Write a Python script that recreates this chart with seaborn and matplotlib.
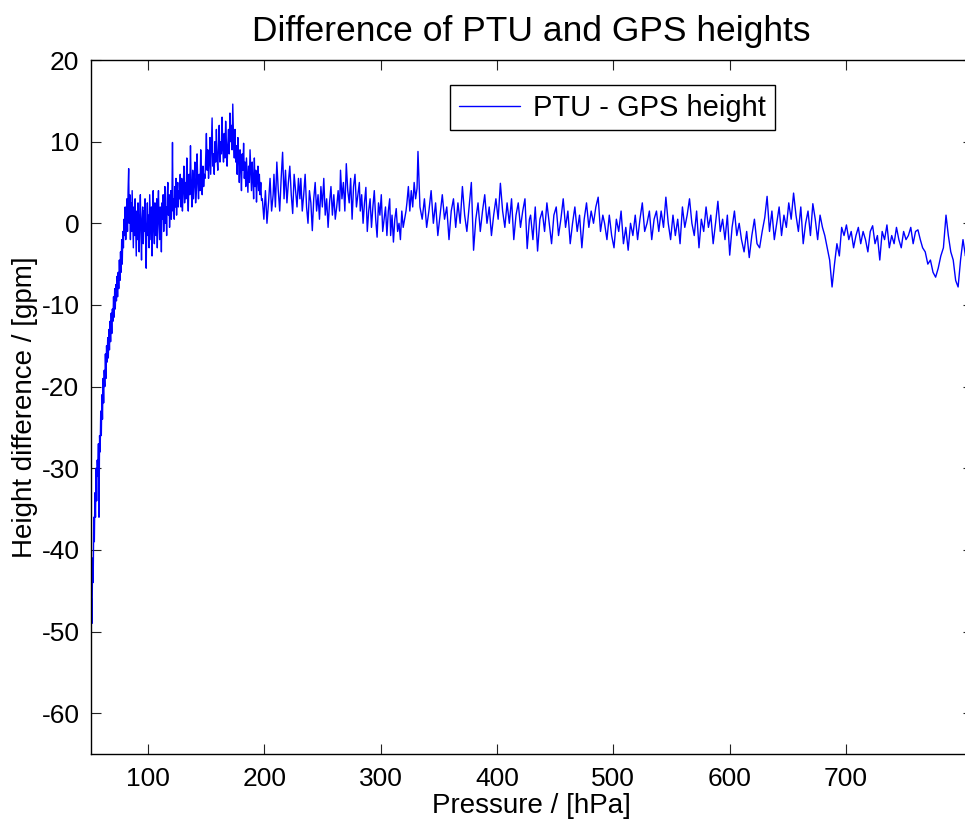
import numpy as np
import pandas as pd
import matplotlib
matplotlib.use("Agg")
import matplotlib.pyplot as plt
import seaborn as sns

# ---- data (pressure ranges in hPa, height differences in gpm) ----
seg_a = [-51, -46, -49, -41, -44, -36, -39, -33, -36, -30, -34, -29, -31, -27, -36, -26,
         -28, -23, -26, -21, -24, -19, -22, -18, -20, -16, -19, -15, -17, -14, -16.5, -13,
         -15.5, -12, -14.5, -11, -13.5, -10.5, -12, -9, -11.5, -8, -10.5, -7.5, -9.5, -6.5,
         -9, -6, -8, -4.5, -7, -3.5, -6, -2, -5, -1, -3, 0.5, -1.5, 2, -2, 1]
seg_b = [3, -1, 4, 6.7, 0, 3.5, -2, 2.5, -1, 4, 0.5, -3, 2, -1.5, 3, -0.5, -4, 1.5, -2, 2.5,
         0, -3.5, 1, 3.5, -1, -4.5, 0.5, 2, -2.5, 1.5, -1, 3, -2, -5.5, 0, 2.5, -1.5, 1, -3, 3.5,
         0.5, -2, 2, -4, 1, 4, -0.5, -2.5, 2.5, 0, -1.5, 3, -3, 1.5, 4, 0, -2, 2, 1, -3.5,
         2.5, 0.5, 3.5, -1, 1.5, 4.5, 0, 2, -1.5, 3, 5, 1, 3.5, -0.5, 2, 4, 0.5, 2.5, 9.9, 1.5,
         3, 0.5, 4.5, 2, 5.5, 1, 3.5, 5, 2, 4]
seg_c1 = [3, 6, 2, 5.5, 1.5, 4, 7, 2.5, 5, 3, 8, 4, 1.5, 6, 3.5, 9.5, 4.5, 2, 6.5, 3, 5, 7.5,
          2.5, 4, 8.5, 5, 3, 6, 4, 9, 5.5, 3.5, 7, 4.5, 6]
seg_c2 = [5.5, 8, 11, 6.5, 9, 5.5, 7.5, 10.5, 6, 9.5, 12.9, 7, 8.5, 6, 10, 7.5, 11.5, 8, 6.5,
          9.5, 12, 7.5, 10, 8.5, 13, 9, 7.5, 11, 8, 12.5, 10, 7, 9.5, 11.5, 8.5, 13.5, 10, 12,
          9, 14.6]
seg_c3 = [10, 8, 11.5, 7.5, 9.5, 6, 10.5, 8, 5, 9, 7, 4, 8.5, 6.5, 9.8, 5.5, 7.5, 4.5, 8, 6,
          3.8, 7, 5, 9, 6.5, 4, 7.5, 5.5, 3, 8, 4.5, 6.5, 2.6, 5.5, 7, 4, 6, 3.5, 5, 2.8]
seg_d1 = [3, 0.5, 4, 0, 2.5, 5.5, 1.5, 3.5]
seg_d2 = [6, 2, 7.5, 4, 1.5, 5.5, 8.7, 3, 6.5, 2.5, 5, 7, 3.5, 1.2, 6, 4, 2, 5.5, 3]
seg_d3 = [5.5, 1.5, 3.5, 6, 2, 0, 4, 2.5, -0.9, 3, 5, 1.5, 3.5, 0.5, 4.5, 2, 5.5, 1, 3, -0.5,
          2.5, 4.5, 1, 3.5, 0.5, 2, 4, 1.5]
seg_d4 = [6.5, 3, 5, 1.5, 7.3, 4, 2.5, 5.5, 0.5, 4.5, 6, 2, 3.5, 5]
seg_d5 = [1.5, 3.5, 0, 2.5, 4.4, -1, 1.5, 3, -0.5, 2, 4, 0.5, -1.7, 2.5, 1, 3.5, -1, 0.5, 2,
          -1.5, 1.5, 3]
seg_d6 = [-1.5, 1, -2.3, 0.5, 1.8, -1, 0, -2, 1.5, -0.5, 0.5, 1.5]
seg_d7 = [2.5, 4.5, 1.5, 4, 2, 5, 3, 4.3]
seg_spike = [8.8]
seg_e1 = [2, 0.5, 3, -0.5, 1.5, 4, 0, 2.5, -1.5, 1, 3.5, 0.5, 2, -2, 1.5, 3, -0.5, 2.5, 0, 4.5,
          1, -1, 2, 5, -3.3, 0.5, 2.5, -1, 1.5, 3.5, 0, 2, -1.5, 1, 3, 0.5, 4.9, 1.5, -0.5, 2.5,
          0, 3, -2, 1, 2.5, -0.5, 1.5, 3, -3.1, 0.5]
seg_e2 = [1, -2, 2, -3.4, 0.5, 1.5, -1, 2.5, 0, -2.5, 1, 2, -1.5, 0.5, 3, -0.5, 1.5, -2.5, 0, 2,
          -1, 1, -3, 0.5, 2.5, -0.5, 1.5, 0, 2, 3.2, -1, 1]
seg_e3 = [0, -2, 1, -1.5, -3, 0.5, -1, 1.5, -2.5, -0.5, -3.3, 0, -1.5, 1, -2, 0.5, 2.5, -1, 0,
          1.5, -2, 0.5, 1.5]
seg_f1 = [-1, 1.5, -0.5, 3.2, 0, -2, 1, -1.5, 0.5, -2.5, 2, -0.5, 1, 3, 0, -1.5, 1.5, -3, 0.5,
          -1, 2, -0.5, 1, -2.5, 0, 2.7, -1, 0.5, -2, 1, -3.9, -0.5, 1.5, -1.5, 0]
seg_f2 = [-2, -3.5, -1, -4.2, -1.5, 0.5, -2.5, -3, -1, 0.7]
seg_f3 = [3.3, -1, 1.5, -2, 0, 2, -1.5, 1, -0.5, 2.5, 0.5, 3.7, 1, -1, 2, -2.5, 0, 1.5, -1.5,
          2.4, 0.5, -2, 1, -0.5]
seg_f4 = [-1.5, -3, -4.5, -7.8, -5, -2.5, -4]
seg_f5 = [-0.5, -1.5, -0.2, -2, -1, -3, -1.5, -0.5, -2.5, -1, -2, -3.5, -1, -0.3, -2.5, -1.5,
          -4.5, -1, -2, -0.2, -3, -1.5, -2.5, -0.5, -2, -3, -1, -2, -1.5, -0.5, -2.5, -1, -0.8, -2]
seg_f6 = [-3, -3.5, -5, -4.5, -6, -6.6, -5.5, -4, -3, 1]
seg_f7 = [-1.5, -3.5, -4.5, -7, -7.8, -4.5, -2, -4, -3, -5, -4.5]

# pressure span (hPa) covered by each segment of readings
segments = [
    (50.9, 81.4, seg_a), (81.9, 126.6, seg_b),
    (127.1, 148.5, seg_c1), (149.0, 172.9, seg_c2), (173.6, 197.6, seg_c3),
    (198.3, 207.6, seg_d1), (208.3, 230.6, seg_d2), (231.4, 264.7, seg_d3),
    (265.5, 281.7, seg_d4), (282.5, 307.8, seg_d5), (308.6, 321.8, seg_d6),
    (322.6, 331.3, seg_d7), (332.1, 332.1, seg_spike),
    (333.8, 427.9, seg_e1), (428.9, 491.0, seg_e2), (492.5, 537.1, seg_e3),
    (539.1, 608.2, seg_f1), (610.2, 630.2, seg_f2), (632.2, 679.8, seg_f3),
    (681.8, 694.3, seg_f4), (696.3, 763.9, seg_f5), (765.9, 786.0, seg_f6),
    (788.0, 809.0, seg_f7),
]

x_ticks = [100, 200, 300, 400, 500, 600, 700]
y_ticks = [-60, -50, -40, -30, -20, -10, 0, 10, 20]

pressure = np.concatenate([np.linspace(s, e, len(v)) for s, e, v in segments])
diff = np.concatenate([np.asarray(v, dtype=float) for _, _, v in segments])
df = pd.DataFrame({"Pressure": pressure, "Diff": diff})

sns.set_theme(style="ticks")
plt.rcParams['font.family'] = ['Liberation Sans', 'DejaVu Sans']
plt.rcParams['axes.unicode_minus'] = False
plt.rcParams['text.color'] = 'black'
plt.rcParams['axes.labelcolor'] = 'black'

W, H = 965, 825
fig = plt.figure(figsize=(W / 100, H / 100), dpi=100)
fig.patch.set_facecolor("white")
ax = fig.add_axes([90.5 / W, 71 / H, (973 - 90.5) / W, 694 / H])
ax.set_facecolor("white")

sns.lineplot(data=df, x="Pressure", y="Diff", ax=ax, color="#0000ff", linewidth=1.0,
             estimator=None, sort=False, label="PTU - GPS height")

ax.set_xlim(50.6, 809.2)
ax.set_ylim(-65, 20)
ax.set_xticks(x_ticks)
ax.set_yticks(y_ticks)
ax.tick_params(direction='in', length=7, width=0.8, top=True, right=True,
               labelsize=19, color='#222222', labelcolor='black')
ax.tick_params(axis='x', pad=9)
ax.tick_params(axis='y', pad=8)
for s in ax.spines.values():
    s.set_visible(True)
    s.set_color('black')
    s.set_linewidth(1.0)

ax.set_title("Difference of PTU and GPS heights", fontsize=25.5, pad=14, color='black')
ax.set_xlabel("Pressure / [hPa]", fontsize=20, labelpad=2)
ax.set_ylabel("Height difference / [gpm]", fontsize=20, labelpad=2)

leg = ax.legend(loc='upper right', bbox_to_anchor=(0.7756, 0.964), borderaxespad=0,
                frameon=True, fancybox=False, edgecolor='black', fontsize=21,
                handlelength=2.1, handletextpad=0.45, borderpad=0.3)
leg.get_frame().set_linewidth(1.0)
leg.get_frame().set_facecolor('white')
leg.get_frame().set_alpha(1)

fig.savefig("out.png", dpi=100, facecolor="white")
